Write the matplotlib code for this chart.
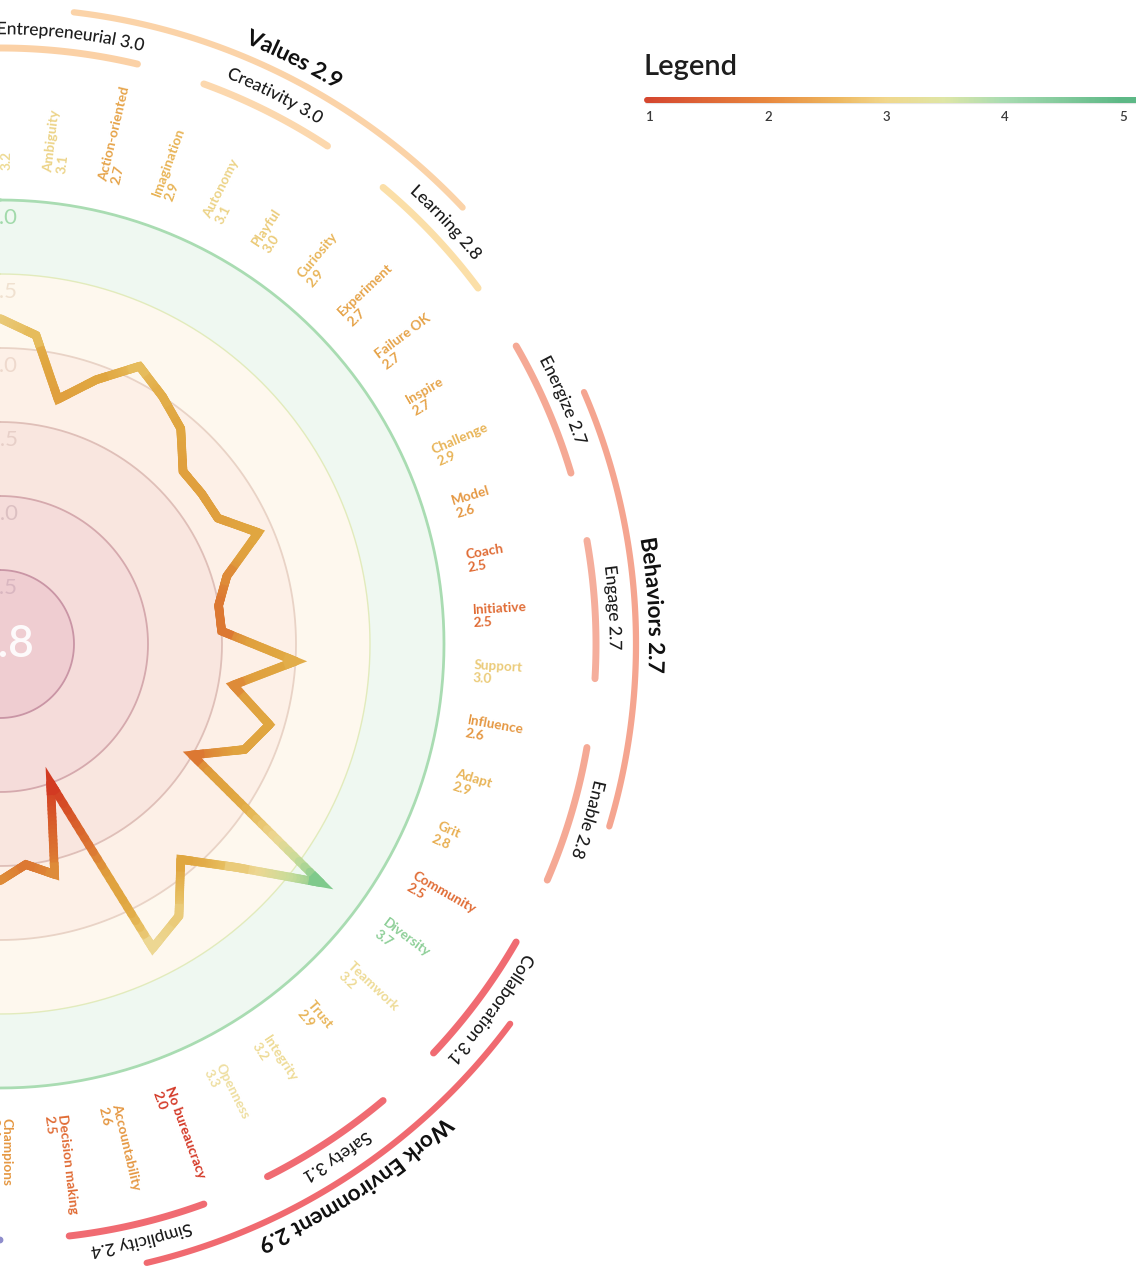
import numpy as np
import matplotlib
matplotlib.use("Agg")
import matplotlib.pyplot as plt
from matplotlib.colors import LinearSegmentedColormap
from matplotlib.collections import LineCollection
from matplotlib.font_manager import FontProperties
from matplotlib.textpath import TextPath
from matplotlib.patches import PathPatch
from matplotlib.path import Path
from matplotlib.transforms import ScaledTranslation

# ---------------- data ----------------
N_ITEMS = 54  # items around the full wheel

ITEM_NAMES = ["Risk-taking", "Ambiguity", "Action-oriented",
              "Imagination", "Autonomy", "Playful",
              "Curiosity", "Experiment", "Failure OK",
              "Inspire", "Challenge", "Model",
              "Coach", "Initiative", "Support",
              "Influence", "Adapt", "Grit",
              "Community", "Diversity", "Teamwork",
              "Trust", "Integrity", "Openness",
              "No bureaucracy", "Accountability", "Decision making",
              "Champions"]
ITEM_VALUES = [3.2, 3.1, 2.7,
               2.9, 3.1, 3.0,
               2.9, 2.7, 2.7,
               2.7, 2.9, 2.6,
               2.5, 2.5, 3.0,
               2.6, 2.9, 2.8,
               2.5, 3.7, 3.2,
               2.9, 3.2, 3.3,
               2.0, 2.6, 2.5,
               2.6]

SUB_NAMES = ["Entrepreneurial", "Creativity", "Learning",
             "Energize", "Engage", "Enable",
             "Collaboration", "Safety", "Simplicity"]
SUB_SCORES = [3.0, 3.0, 2.8, 2.7, 2.7, 2.8, 3.1, 3.1, 2.4]

GROUP_NAMES = ["Values", "Behaviors", "Work Environment"]
GROUP_SCORES = [2.9, 2.7, 2.9]

OVERALL = 2.8
RING_LEVELS = [1.5, 2.0, 2.5, 3.0, 3.5, 4.0]
LEGEND_TICKS = [1, 2, 3, 4, 5]

# ---------------- styling ----------------
W, H, DPI = 1136, 1272, 100
PX = 148.0          # pixels per score unit
CY = 644            # wheel centre, pixels from top (centre sits on the left edge)
R_AX = 720          # radius of the polar axes in pixels
FONT = ["Lato", "DejaVu Sans"]
plt.rcParams["font.family"] = FONT

LABEL_STOPS = [(2.0, "#d43a28"), (2.5, "#e06a34"), (2.6, "#e59a44"),
               (2.8, "#e8ae50"), (2.9, "#e8b456"), (3.0, "#ebcb78"),
               (3.2, "#eedb96"), (3.35, "#eee0a4"), (3.7, "#8ecf98"),
               (4.0, "#6cc08a")]
LINE_STOPS = [(2.0, "#d23a22"), (2.5, "#dc7832"), (2.7, "#e0a03e"),
              (2.9, "#e0a640"), (3.0, "#e2ac48"), (3.1, "#e6bc5c"),
              (3.2, "#eacb7a"), (3.3, "#edd792"), (3.5, "#c8dc9a"),
              (3.7, "#7fca8c"), (4.0, "#5fba80")]


def make_cmap(name, stops):
    return LinearSegmentedColormap.from_list(
        name, [((v - 2.0) / 2.0, c) for v, c in stops])


label_cmap = make_cmap("labels", LABEL_STOPS)
line_cmap = make_cmap("line", LINE_STOPS)


def cmap_at(cm, v):
    return cm(float(np.clip((v - 2.0) / 2.0, 0, 1)))


LEGEND_STOPS = [(1.0, "#d5472f"), (2.0, "#e8883e"), (2.6, "#eeb860"),
                (3.0, "#f1d78c"), (3.5, "#dfe6a6"), (4.0, "#a9dcb2"),
                (5.0, "#5db886")]
legend_cmap = LinearSegmentedColormap.from_list(
    "legend", [((v - 1.0) / 4.0, c) for v, c in LEGEND_STOPS])

RING_FILLS = ["#efcdd1", "#f5dcda", "#f9e6df", "#fdf0e7", "#fef8ee", "#eff8f1"]
RING_EDGES = ["#c995a5", "#d5a9ad", "#dfbfb8", "#e9d3c6", "#e2ebbc", "#a9dcb2"]
RING_LW = [1.3, 1.3, 1.3, 1.3, 1.0, 2.0]
RING_LABEL_COLORS = ["#d9b6c0", "#dcc0c2", "#e7cfc8", "#eed9cd", "#f0e1d0", "#a2daab"]

SUB_COLORS = ["#fbd1a6", "#fcd8ae", "#fbdfa8",
              "#f5a995", "#f5ae9c", "#f5a995",
              "#f06b72", "#f06b72", "#f06b72"]
GROUP_COLORS = ["#fbd3a8", "#f5a590", "#f06a70"]
NEXT_SUB_COLOR = "#8f8dcc"

STEP = 360.0 / N_ITEMS


def r_of(px):
    return 1.0 + px / PX


def arc_text(ax, s, phi_deg, r_px, size, weight, color):
    """Set a label along a circle, reading clockwise, letter tops outward."""
    fp = FontProperties(family="Lato", size=size, weight=weight)
    size_px = size * DPI / 72.0
    tp = TextPath((0, 0), s, size=size_px, prop=fp)
    ext = tp.get_extents()
    xc = (ext.x0 + ext.x1) / 2.0
    base = r_px - 0.36 * size_px
    v = tp.vertices
    th = np.deg2rad(phi_deg) + (v[:, 0] - xc) / base
    rr = r_of(base + v[:, 1])
    patch = PathPatch(Path(np.column_stack([th, rr]), tp.codes),
                      facecolor=color, edgecolor="none", lw=0,
                      transform=ax.transData, zorder=5)
    ax.add_patch(patch)


def arc(ax, a0, a1, r_px, color, lw):
    th = np.deg2rad(np.linspace(a0, a1, 120))
    ax.plot(th, np.full_like(th, r_of(r_px)), color=color, lw=lw,
            solid_capstyle="round", zorder=2)


fig = plt.figure(figsize=(W / DPI, H / DPI), dpi=DPI)
fig.patch.set_facecolor("white")
ax = fig.add_axes([-R_AX / W, (H - CY - R_AX) / H, 2 * R_AX / W, 2 * R_AX / H],
                  projection="polar")
ax.set_theta_zero_location("N")
ax.set_theta_direction(-1)
ax.set_xlim(0, 2 * np.pi)
ax.set_ylim(1, r_of(R_AX))
ax.set_autoscale_on(False)
ax.axis("off")

# concentric score bands
full = np.linspace(0, 2 * np.pi, 721)
for lvl, fc in reversed(list(zip(RING_LEVELS, RING_FILLS))):
    ax.fill(full, np.full_like(full, lvl), color=fc, lw=0, zorder=1)
for lvl, ec, lw in zip(RING_LEVELS, RING_EDGES, RING_LW):
    ax.plot(full, np.full_like(full, lvl), color=ec, lw=lw, zorder=2)
shift = ax.transData + ScaledTranslation(2 / DPI, 0, fig.dpi_scale_trans)
for lvl, lc in zip(RING_LEVELS, RING_LABEL_COLORS):
    ax.text(0, lvl - 18 / PX, f"{lvl:.1f}", ha="center", va="center",
            fontsize=16, color=lc, zorder=2.5, transform=shift)

ax.text(0, 1, f"{OVERALL:.1f}", ha="center", va="center", fontsize=32,
        color="white", fontweight="semibold", alpha=0.92, zorder=2.6,
        transform=ax.transData + ScaledTranslation(3 / DPI, 0, fig.dpi_scale_trans))

# score line, shaded by value along its length
vals = np.array(ITEM_VALUES)
phis = np.deg2rad(np.arange(len(vals)) * STEP)
xs = (vals - 1) * np.sin(phis)
ys = (vals - 1) * np.cos(phis)
segs, cols = [], []
n_sub = 24
for i in range(len(vals) - 1):
    t = np.linspace(0, 1, n_sub + 1)
    sx = xs[i] + (xs[i + 1] - xs[i]) * t
    sy = ys[i] + (ys[i + 1] - ys[i]) * t
    sv = vals[i] + (vals[i + 1] - vals[i]) * t
    th = np.arctan2(sx, sy)
    rr = 1 + np.hypot(sx, sy)
    for k in range(n_sub):
        segs.append([(th[k], rr[k]), (th[k + 1], rr[k + 1])])
        cols.append(cmap_at(line_cmap, (sv[k] + sv[k + 1]) / 2))
LW_LINE = 6.2
ax.add_collection(LineCollection(segs, colors=cols, linewidths=LW_LINE,
                                 capstyle="round", zorder=3))
for i in range(1, len(vals) - 1):
    pts = []
    for j in (i - 1, i, i + 1):
        if j == i:
            pts.append((xs[i], ys[i]))
        else:
            d = np.hypot(xs[j] - xs[i], ys[j] - ys[i])
            f = min(0.3, (12 / PX) / d)
            pts.append((xs[i] + (xs[j] - xs[i]) * f, ys[i] + (ys[j] - ys[i]) * f))
    pts = np.array(pts)
    ax.plot(np.arctan2(pts[:, 0], pts[:, 1]), 1 + np.hypot(pts[:, 0], pts[:, 1]),
            color=cmap_at(line_cmap, vals[i]), lw=LW_LINE, solid_joinstyle="miter",
            solid_capstyle="butt", zorder=3.1)

# item labels
for i, (name, v) in enumerate(zip(ITEM_NAMES, ITEM_VALUES)):
    phi = i * STEP
    ax.text(np.deg2rad(phi), r_of(474), f"{name}\n{v:.1f}", rotation=90 - phi,
            rotation_mode="anchor", ha="left", va="center", multialignment="left",
            fontsize=9.8, fontweight="bold", color=cmap_at(label_cmap, v),
            linespacing=1.15, zorder=4)

# sub-group arcs and labels
for k, (name, sc) in enumerate(zip(SUB_NAMES, SUB_SCORES)):
    arc(ax, 3 * k * STEP, (3 * k + 2) * STEP, 596, SUB_COLORS[k], 5.0)
    arc_text(ax, f"{name} {sc:.1f}", (3 * k + 1) * STEP, 616, 12.5, "medium", "#1e1e1e")
arc(ax, 27 * STEP, 29 * STEP, 596, NEXT_SUB_COLOR, 5.0)

# group arcs and labels
for g, (name, sc) in enumerate(zip(GROUP_NAMES, GROUP_SCORES)):
    arc(ax, (9 * g + 1) * STEP, (9 * g + 7) * STEP, 636, GROUP_COLORS[g], 4.5)
    arc_text(ax, f"{name} {sc:.1f}", (9 * g + 4) * STEP, 657, 16, "bold", "#111111")

# colour legend
fig.text(643 / W, 1 - 75 / H, "Legend", ha="left", va="baseline",
         fontsize=21, fontweight="semibold", color="#1e1e1e")
lax = fig.add_axes([643 / W, 1 - 128 / H, (W - 643) / W, 36 / H])
x0 = 1 + (643 - 650) / 118.25
x1 = 1 + (W - 650) / 118.25
lax.set_xlim(x0, x1)
lax.set_ylim(0, 1)
lax.axis("off")
gx = np.linspace(x0 + 0.03, x1, 300)
gsegs = [[(gx[k], 0.78), (gx[k + 1], 0.78)] for k in range(len(gx) - 1)]
gcols = [legend_cmap(float(np.clip((gx[k] - 1) / 4, 0, 1))) for k in range(len(gx) - 1)]
lax.plot([x0 + 0.03, x1], [0.72, 0.72], color="#e6e6e6", lw=3.0,
         solid_capstyle="round", zorder=1)
lax.add_collection(LineCollection(gsegs, colors=gcols, linewidths=4.3,
                                  capstyle="round", zorder=2))
for t in LEGEND_TICKS:
    lax.text(t, 0.3, str(t), ha="center", va="center", fontsize=9.5,
             color="#3a3a3a", fontweight="semibold")

fig.savefig("out.png", dpi=DPI, facecolor="white")
